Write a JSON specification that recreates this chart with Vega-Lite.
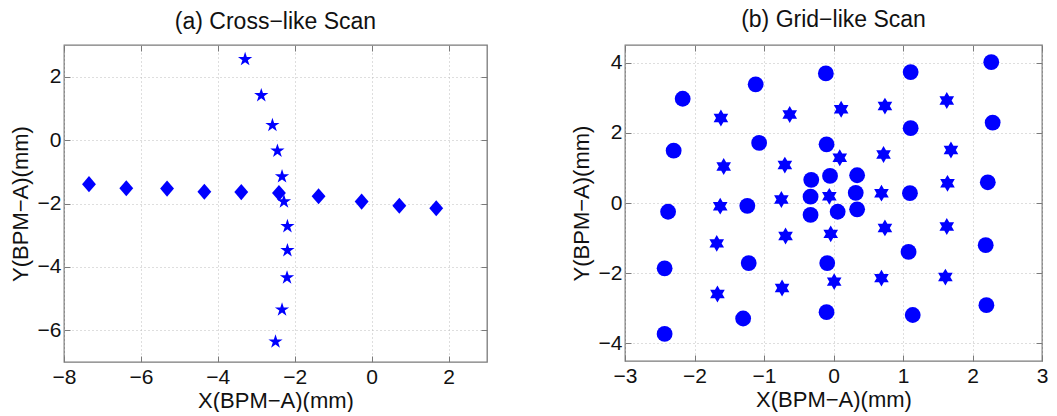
{
  "$schema": "https://vega.github.io/schema/vega-lite/v6.json",
  "background": "white",
  "padding": {"left": 8, "top": 7, "right": 0, "bottom": 0},
  "spacing": 80,
  "config": {
    "font": "Liberation Sans",
    "view": {"stroke": "#7a7a7a", "strokeWidth": 1.3},
    "title": {"font": "Liberation Sans", "fontSize": 23, "fontWeight": "normal", "color": "#111111", "anchor": "middle", "frame": "group", "offset": 11},
    "axis": {
      "domain": false,
      "grid": true,
      "gridColor": "#bdbdbd",
      "gridDash": [1, 3],
      "gridWidth": 1,
      "tickColor": "#7a7a7a",
      "tickSize": -6,
      "tickWidth": 1,
      "labelFont": "Liberation Sans",
      "labelFontSize": 21,
      "labelColor": "#111111",
      "labelFlush": false,
      "labelOverlap": false,
      "titleFont": "Liberation Sans",
      "titleFontSize": 22,
      "titleFontWeight": "normal",
      "titleColor": "#111111"
    },
    "axisX": {"labelPadding": 10, "titlePadding": 3},
    "axisY": {"labelPadding": 9, "titlePadding": 5}
  },
  "datasets": {
    "cross": [
      {"x": -7.35, "y": -1.39, "kind": "diamond"},
      {"x": -6.38, "y": -1.52, "kind": "diamond"},
      {"x": -5.32, "y": -1.53, "kind": "diamond"},
      {"x": -4.35, "y": -1.63, "kind": "diamond"},
      {"x": -3.39, "y": -1.64, "kind": "diamond"},
      {"x": -2.41, "y": -1.67, "kind": "diamond"},
      {"x": -1.38, "y": -1.77, "kind": "diamond"},
      {"x": -0.26, "y": -1.94, "kind": "diamond"},
      {"x": 0.72, "y": -2.07, "kind": "diamond"},
      {"x": 1.68, "y": -2.15, "kind": "diamond"},
      {"x": -3.29, "y": 2.55, "kind": "star"},
      {"x": -2.87, "y": 1.41, "kind": "star"},
      {"x": -2.58, "y": 0.47, "kind": "star"},
      {"x": -2.45, "y": -0.34, "kind": "star"},
      {"x": -2.33, "y": -1.15, "kind": "star"},
      {"x": -2.28, "y": -1.94, "kind": "star"},
      {"x": -2.19, "y": -2.72, "kind": "star"},
      {"x": -2.19, "y": -3.48, "kind": "star"},
      {"x": -2.2, "y": -4.34, "kind": "star"},
      {"x": -2.33, "y": -5.35, "kind": "star"},
      {"x": -2.5, "y": -6.36, "kind": "star"}
    ],
    "grid": [
      {"x": -2.17, "y": 2.97, "kind": "circle"},
      {"x": -2.3, "y": 1.49, "kind": "circle"},
      {"x": -2.38, "y": -0.25, "kind": "circle"},
      {"x": -2.43, "y": -1.86, "kind": "circle"},
      {"x": -2.43, "y": -3.73, "kind": "circle"},
      {"x": -1.12, "y": 3.38, "kind": "circle"},
      {"x": -1.07, "y": 1.71, "kind": "circle"},
      {"x": -1.24, "y": -0.08, "kind": "circle"},
      {"x": -1.22, "y": -1.71, "kind": "circle"},
      {"x": -1.3, "y": -3.29, "kind": "circle"},
      {"x": -0.11, "y": 3.69, "kind": "circle"},
      {"x": -0.1, "y": 1.67, "kind": "circle"},
      {"x": -0.05, "y": 0.77, "kind": "circle"},
      {"x": -0.32, "y": 0.66, "kind": "circle"},
      {"x": -0.33, "y": 0.18, "kind": "circle"},
      {"x": -0.33, "y": -0.34, "kind": "circle"},
      {"x": 0.06, "y": -0.25, "kind": "circle"},
      {"x": 0.34, "y": 0.79, "kind": "circle"},
      {"x": 0.32, "y": 0.29, "kind": "circle"},
      {"x": 0.34, "y": -0.18, "kind": "circle"},
      {"x": -0.09, "y": -1.71, "kind": "circle"},
      {"x": -0.1, "y": -3.11, "kind": "circle"},
      {"x": 1.11, "y": 3.73, "kind": "circle"},
      {"x": 1.11, "y": 2.13, "kind": "circle"},
      {"x": 1.1, "y": 0.28, "kind": "circle"},
      {"x": 1.08, "y": -1.39, "kind": "circle"},
      {"x": 1.14, "y": -3.19, "kind": "circle"},
      {"x": 2.27, "y": 4.01, "kind": "circle"},
      {"x": 2.29, "y": 2.29, "kind": "circle"},
      {"x": 2.22, "y": 0.59, "kind": "circle"},
      {"x": 2.19, "y": -1.2, "kind": "circle"},
      {"x": 2.2, "y": -2.91, "kind": "circle"},
      {"x": -1.62, "y": 2.42, "kind": "hexagram"},
      {"x": -1.58, "y": 1.04, "kind": "hexagram"},
      {"x": -1.63, "y": -0.09, "kind": "hexagram"},
      {"x": -1.68, "y": -1.15, "kind": "hexagram"},
      {"x": -1.67, "y": -2.59, "kind": "hexagram"},
      {"x": -0.63, "y": 2.52, "kind": "hexagram"},
      {"x": -0.7, "y": 1.08, "kind": "hexagram"},
      {"x": -0.75, "y": 0.1, "kind": "hexagram"},
      {"x": -0.69, "y": -0.94, "kind": "hexagram"},
      {"x": -0.74, "y": -2.42, "kind": "hexagram"},
      {"x": 0.11, "y": 2.67, "kind": "hexagram"},
      {"x": 0.09, "y": 1.29, "kind": "hexagram"},
      {"x": -0.06, "y": 0.19, "kind": "hexagram"},
      {"x": -0.04, "y": -0.88, "kind": "hexagram"},
      {"x": 0.01, "y": -2.24, "kind": "hexagram"},
      {"x": 0.74, "y": 2.76, "kind": "hexagram"},
      {"x": 0.72, "y": 1.38, "kind": "hexagram"},
      {"x": 0.69, "y": 0.28, "kind": "hexagram"},
      {"x": 0.74, "y": -0.71, "kind": "hexagram"},
      {"x": 0.69, "y": -2.14, "kind": "hexagram"},
      {"x": 1.63, "y": 2.92, "kind": "hexagram"},
      {"x": 1.69, "y": 1.51, "kind": "hexagram"},
      {"x": 1.64, "y": 0.56, "kind": "hexagram"},
      {"x": 1.63, "y": -0.67, "kind": "hexagram"},
      {"x": 1.61, "y": -2.11, "kind": "hexagram"}
    ]
  },
  "hconcat": [
    {
      "width": 423,
      "height": 317,
      "title": {"text": "(a) Cross−like Scan", "offset": 11},
      "data": {"name": "cross"},
      "resolve": {"axis": {"x": "independent", "y": "independent"}},
      "layer": [
        {
          "transform": [{"filter": "datum.kind === 'diamond'"}],
          "mark": {"type": "point", "filled": true, "opacity": 1, "color": "#0000ff", "size": 260, "shape": "M0,-1L0.86,0L0,1L-0.86,0Z"},
          "encoding": {
            "x": {"field": "x", "type": "quantitative", "scale": {"domain": [-8, 3], "nice": false, "zero": false}, "axis": {"title": "X(BPM−A)(mm)", "values": [-8, -6, -4, -2, 0, 2]}},
            "y": {"field": "y", "type": "quantitative", "scale": {"domain": [-7, 3], "nice": false, "zero": false}, "axis": {"title": "Y(BPM−A)(mm)", "values": [-6, -4, -2, 0, 2]}}
          }
        },
        {
          "transform": [{"filter": "datum.kind === 'star'"}],
          "mark": {"type": "point", "filled": true, "opacity": 1, "color": "#0000ff", "size": 225, "shape": "M0,-1L0.225,-0.309L0.951,-0.309L0.363,0.118L0.588,0.809L0,0.382L-0.588,0.809L-0.363,0.118L-0.951,-0.309L-0.225,-0.309Z"},
          "encoding": {
            "x": {"field": "x", "type": "quantitative", "axis": {"orient": "top", "labels": false, "title": null, "grid": false, "values": [-8, -6, -4, -2, 0, 2]}},
            "y": {"field": "y", "type": "quantitative", "axis": {"orient": "right", "labels": false, "title": null, "grid": false, "values": [-6, -4, -2, 0, 2]}}
          }
        }
      ]
    },
    {
      "width": 417,
      "height": 316,
      "title": {"text": "(b) Grid−like Scan", "offset": 13},
      "data": {"name": "grid"},
      "resolve": {"axis": {"x": "independent", "y": "independent"}},
      "layer": [
        {
          "transform": [{"filter": "datum.kind === 'circle'"}],
          "mark": {"type": "point", "filled": true, "opacity": 1, "color": "#0000ff", "size": 250, "shape": "circle"},
          "encoding": {
            "x": {"field": "x", "type": "quantitative", "scale": {"domain": [-3, 3], "nice": false, "zero": false}, "axis": {"title": "X(BPM−A)(mm)", "values": [-3, -2, -1, 0, 1, 2, 3]}},
            "y": {"field": "y", "type": "quantitative", "scale": {"domain": [-4.5, 4.5], "nice": false, "zero": false}, "axis": {"title": "Y(BPM−A)(mm)", "values": [-4, -2, 0, 2, 4]}}
          }
        },
        {
          "transform": [{"filter": "datum.kind === 'hexagram'"}],
          "mark": {"type": "point", "filled": true, "opacity": 1, "color": "#0000ff", "size": 285, "shape": "M0,-1L0.289,-0.5L0.866,-0.5L0.577,0L0.866,0.5L0.289,0.5L0,1L-0.289,0.5L-0.866,0.5L-0.577,0L-0.866,-0.5L-0.289,-0.5Z"},
          "encoding": {
            "x": {"field": "x", "type": "quantitative", "axis": {"orient": "top", "labels": false, "title": null, "grid": false, "values": [-3, -2, -1, 0, 1, 2, 3]}},
            "y": {"field": "y", "type": "quantitative", "axis": {"orient": "right", "labels": false, "title": null, "grid": false, "values": [-4, -2, 0, 2, 4]}}
          }
        }
      ]
    }
  ]
}
